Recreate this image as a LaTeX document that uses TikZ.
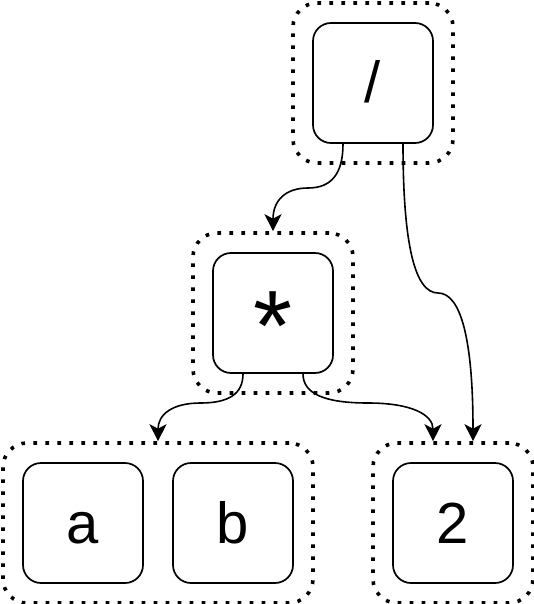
\documentclass[tikz,border=0pt]{standalone}
\usepackage{fontspec}
\setmainfont{Liberation Sans}
\usetikzlibrary{arrows.meta}

\tikzstyle{term} = [draw, rounded corners=18pt, minimum width=120pt, minimum height=120pt, inner sep=0pt, line width=1.7pt, font=\fontsize{58}{58}\selectfont, text height=41pt, text depth=1pt]
\tikzstyle{group} = [draw, rounded corners=24pt, minimum height=160pt, inner sep=0pt, line width=3.6pt, dash pattern=on 3.6pt off 8.4pt]
\tikzstyle{link} = [draw, line width=1.6pt, -{Stealth[length=17pt, width=17pt, inset=4.5pt]}]

\begin{document}
\begin{tikzpicture}[x=1pt, y=1pt]
    \useasboundingbox (0,0) rectangle (534,-604);

    % groups
    \node[group, minimum width=160pt] (slashGrp) at (373,-83) {};
    \node[group, minimum width=160pt] (starGrp) at (273,-313) {};
    \node[group, minimum width=310pt] (abGrp) at (158,-523) {};
    \node[group, minimum width=160pt] (twoGrp) at (453,-523) {};

    % terms
    \node[term] (slash) at (373,-83) {/};
    \node[term, font=\fontsize{100}{100}\selectfont] (star) at (273,-313) {\raisebox{-27.5pt}{*}};
    \node[term] (a) at (83,-523) {a};
    \node[term] (b) at (233,-523) {b};
    \node[term] (two) at (453,-523) {2};

    % bends
    \coordinate (bendSl) at (308,-188);
    \coordinate (bendSr) at (438,-293);
    \coordinate (bendAl) at (200.5,-403);
    \coordinate (bendAr) at (368,-403);

    % edges
    \draw[link] ([xshift=-30pt]slash.south) .. controls +(0,-30) and +(23.3,0) .. (bendSl)
        .. controls +(-23.3,0) and +(0,30) .. (starGrp.north);
    \draw[link] ([xshift=30pt]slash.south) .. controls +(0,-100) and +(-23.3,0) .. (bendSr)
        .. controls +(23.3,0) and +(0,100) .. ([xshift=20pt]twoGrp.north);
    \draw[link] ([xshift=-30pt]star.south) .. controls +(0,-20) and +(28.3,0) .. (bendAl)
        .. controls +(-28.3,0) and +(0,26.7) .. (abGrp.north);
    \draw[link] ([xshift=30pt]star.south) .. controls +(0,-20) and +(-43.3,0) .. (bendAr)
        .. controls +(43.3,0) and +(0,26.7) .. ([xshift=-20pt]twoGrp.north);
\end{tikzpicture}
\end{document}
